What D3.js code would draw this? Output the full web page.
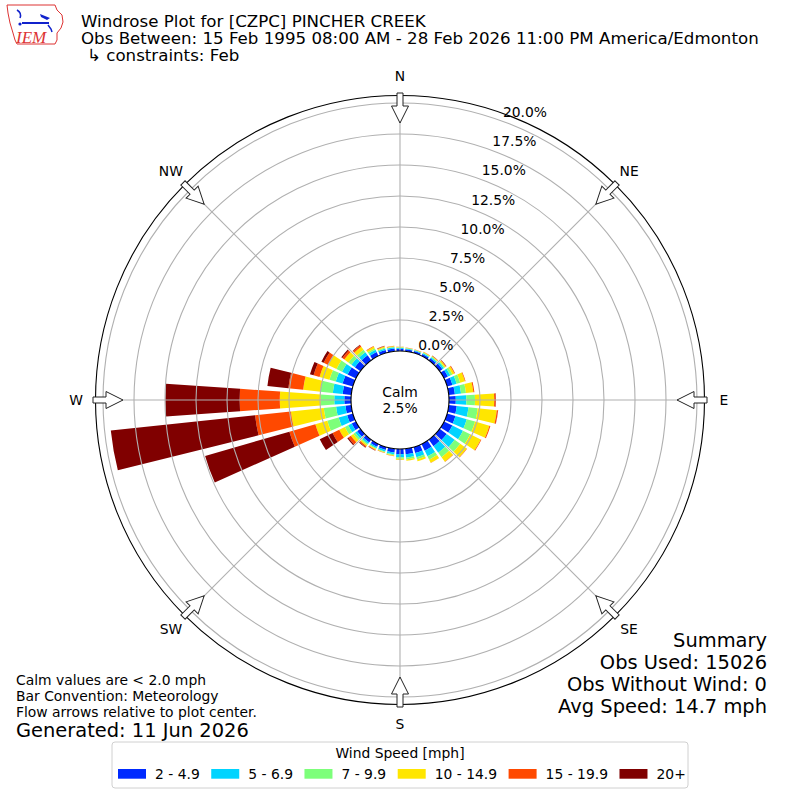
<!DOCTYPE html>
<html>
<head>
<meta charset="utf-8">
<script src="https://cdn.jsdelivr.net/npm/d3@7/dist/d3.min.js"></script>
<style>
  body { margin: 0; background: #fff; }
  text { font-family: "DejaVu Sans", sans-serif; fill: #000; }
</style>
</head>
<body>
<div id="chart"></div>
<script>
// direction bins (deg, meteorological: wind from)
const directions = [0, 10, 20, 30, 40, 50, 60, 70, 80, 90, 100, 110, 120, 130, 140, 150, 160, 170,
  180, 190, 200, 210, 220, 230, 240, 250, 260, 270, 280, 290, 300, 310, 320, 330, 340, 350];

const speedBins = ["2 - 4.9", "5 - 6.9", "7 - 9.9", "10 - 14.9", "15 - 19.9", "20+"];
const binColors = ["#002aff", "#00d4ff", "#7dff7a", "#ffe600", "#ff4900", "#800000"];

// percent frequency per direction, one array per speed bin
const speed2to5 = [0.18, 0.16, 0.15, 0.18, 0.22, 0.28, 0.35, 0.45, 0.50, 0.55, 0.65, 0.70, 0.75, 0.70, 0.65, 0.60, 0.50, 0.45,
  0.42, 0.30, 0.25, 0.25, 0.28, 0.32, 0.38, 0.48, 0.47, 0.54, 0.70, 0.87, 0.75, 0.55, 0.50, 0.35, 0.25, 0.22];
const speed5to7 = [0.08, 0.07, 0.07, 0.08, 0.10, 0.14, 0.22, 0.35, 0.50, 0.85, 0.95, 0.95, 0.95, 0.80, 0.65, 0.50, 0.35, 0.28,
  0.25, 0.15, 0.12, 0.12, 0.15, 0.20, 0.32, 0.72, 0.76, 0.81, 0.80, 0.57, 0.50, 0.35, 0.30, 0.20, 0.12, 0.10];
const speed7to10 = [0.04, 0.03, 0.04, 0.05, 0.06, 0.10, 0.18, 0.30, 0.40, 0.70, 0.75, 0.70, 0.65, 0.55, 0.45, 0.30, 0.18, 0.14,
  0.12, 0.08, 0.06, 0.08, 0.10, 0.18, 0.30, 0.95, 1.00, 1.08, 1.00, 0.53, 0.50, 0.30, 0.25, 0.15, 0.08, 0.05];
const speed10to15 = [0.04, 0.03, 0.03, 0.05, 0.06, 0.10, 0.18, 0.40, 0.60, 1.55, 1.55, 1.20, 0.95, 0.65, 0.45, 0.28, 0.15, 0.10,
  0.08, 0.05, 0.05, 0.08, 0.12, 0.25, 0.50, 1.00, 2.67, 3.31, 1.40, 0.83, 0.75, 0.40, 0.30, 0.15, 0.08, 0.05];
const speed15to20 = [0.01, 0.01, 0.01, 0.02, 0.03, 0.05, 0.05, 0.05, 0.08, 0.12, 0.10, 0.08, 0.05, 0.03, 0.02, 0.02, 0.01, 0.01,
  0.01, 0.02, 0.02, 0.05, 0.10, 0.25, 0.60, 2.18, 2.90, 3.24, 1.20, 0.50, 0.40, 0.20, 0.15, 0.05, 0.05, 0.03];
const speed20up = [0, 0, 0, 0, 0.01, 0.02, 0.01, 0, 0, 0.02, 0.01, 0, 0, 0, 0, 0, 0, 0,
  0, 0, 0, 0.02, 0.05, 0.10, 1.15, 7.07, 11.70, 6.00, 1.70, 0.30, 0.20, 0.10, 0.05, 0, 0.02, 0];

const ringTicks = [0, 2.5, 5, 7.5, 10, 12.5, 15, 17.5, 20];
const compass = [["N", 0], ["NE", 45], ["E", 90], ["SE", 135], ["S", 180], ["SW", 225], ["W", 270], ["NW", 315]];

const titleLines = [
  "Windrose Plot for [CZPC] PINCHER CREEK",
  "Obs Between: 15 Feb 1995 08:00 AM - 28 Feb 2026 11:00 PM America/Edmonton",
  "\u21b3 constraints: Feb"
];
const noteLines = ["Calm values are < 2.0 mph", "Bar Convention: Meteorology", "Flow arrows relative to plot center."];
const summaryLines = ["Summary", "Obs Used: 15026", "Obs Without Wind: 0", "Avg Speed: 14.7 mph"];
const calmPct = 2.5;

const [width, height] = [800, 800];
const [cx, cy] = [400, 400];
const pt = 100 / 72;

const svg = d3.select("#chart").append("svg")
  .attr("width", width).attr("height", height);

// radial scale: 0% sits on the calm circle
const r = d3.scaleLinear().domain([0, 20]).range([49, 297]);
const rOuter = 304.5;
const rad = d => d * Math.PI / 180;

const g = svg.append("g").attr("transform", `translate(${cx},${cy})`);

// stacked bars
const series = [speed2to5, speed5to7, speed7to10, speed10to15, speed15to20, speed20up];
const stack = directions.map((d, i) => {
  let base = 0;
  return series.map((s, k) => {
    const seg = { dir: d, k: k, y0: base, y1: base + s[i] };
    base += s[i];
    return seg;
  });
}).flat();

const halfW = 4; // bar width 8 deg
const arc = d3.arc()
  .innerRadius(d => r(d.y0))
  .outerRadius(d => r(d.y1))
  .startAngle(d => rad(d.dir - halfW))
  .endAngle(d => rad(d.dir + halfW));

g.append("g").selectAll("path")
  .data(stack.filter(d => d.y1 > d.y0))
  .enter().append("path")
  .attr("d", arc)
  .attr("fill", d => binColors[d.k]);

// grid
const grid = g.append("g").attr("fill", "none").attr("stroke", "#b0b0b0").attr("stroke-width", 1.1);
grid.selectAll("circle")
  .data(ringTicks.slice(1))
  .enter().append("circle")
  .attr("r", d => r(d));
grid.selectAll("line")
  .data(compass)
  .enter().append("line")
  .attr("x1", d => r(0) * Math.sin(rad(d[1])))
  .attr("y1", d => -r(0) * Math.cos(rad(d[1])))
  .attr("x2", d => rOuter * Math.sin(rad(d[1])))
  .attr("y2", d => -rOuter * Math.cos(rad(d[1])));

g.append("circle").attr("r", rOuter)
  .attr("fill", "none").attr("stroke", "#000").attr("stroke-width", 1.1);

// flow arrows pointing to the center
const arrowPath = "M-3,-307 L3,-307 L3,-294 L8.5,-294 L0,-277 L-8.5,-294 L-3,-294 Z";
g.append("g").selectAll("path")
  .data(compass)
  .enter().append("path")
  .attr("d", arrowPath)
  .attr("transform", d => `rotate(${d[1]})`)
  .attr("fill", "#fff")
  .attr("stroke", "#222")
  .attr("stroke-width", 1);

// calm circle
g.append("circle").attr("r", r(0))
  .attr("fill", "#fff").attr("stroke", "#000").attr("stroke-width", 1.1);
g.append("text").attr("text-anchor", "middle").attr("y", -3)
  .style("font-size", 10 * pt + "px").text("Calm");
g.append("text").attr("text-anchor", "middle").attr("y", 13)
  .style("font-size", 10 * pt + "px").text(d3.format(".1f")(calmPct) + "%");

// ring labels
const fmt = d3.format(".1f");
g.append("g").selectAll("text")
  .data(ringTicks)
  .enter().append("text")
  .attr("x", d => (r(d) + 4) * Math.sin(rad(20)))
  .attr("y", d => -(r(d) + 4) * Math.cos(rad(20)))
  .style("font-size", 10 * pt + "px")
  .text(d => fmt(d) + "%");

// compass labels
g.append("g").selectAll("text")
  .data(compass)
  .enter().append("text")
  .attr("x", d => 324 * Math.sin(rad(d[1])))
  .attr("y", d => -324 * Math.cos(rad(d[1])) + 5)
  .attr("text-anchor", "middle")
  .style("font-size", 10 * pt + "px")
  .text(d => d[0]);

// title
svg.append("g").selectAll("text")
  .data(titleLines)
  .enter().append("text")
  .attr("x", (d, i) => i === 2 ? 87 : 81)
  .attr("y", (d, i) => 26.5 + i * 17.3)
  .style("font-size", 12 * pt + "px")
  .text(d => d);

// notes bottom-left
svg.append("g").selectAll("text")
  .data(noteLines)
  .enter().append("text")
  .attr("x", 16)
  .attr("y", (d, i) => 685 + i * 16)
  .style("font-size", 10 * pt + "px")
  .text(d => d);
svg.append("text").attr("x", 16).attr("y", 737)
  .style("font-size", 14 * pt + "px").text("Generated: 11 Jun 2026");

// summary bottom-right
svg.append("g").selectAll("text")
  .data(summaryLines)
  .enter().append("text")
  .attr("x", 767)
  .attr("y", (d, i) => 646.5 + i * 22)
  .attr("text-anchor", "end")
  .style("font-size", 14 * pt + "px")
  .text(d => d);

// legend
const legend = svg.append("g");
legend.append("rect")
  .attr("x", 112).attr("y", 742).attr("width", 576).attr("height", 46)
  .attr("rx", 3).attr("fill", "#fff").attr("stroke", "#d0d0d0");
legend.append("text").attr("x", 400).attr("y", 758)
  .attr("text-anchor", "middle").style("font-size", 10 * pt + "px")
  .text("Wind Speed [mph]");
const items = legend.append("g");
let xpos = 0;
speedBins.forEach((label, k) => {
  items.append("rect").attr("x", xpos).attr("y", 769).attr("width", 28).attr("height", 9.7)
    .attr("fill", binColors[k]);
  const t = items.append("text").attr("x", xpos + 37).attr("y", 779)
    .style("font-size", 10 * pt + "px").text(label);
  xpos += 37 + t.node().getComputedTextLength() + 11.5;
});
items.attr("transform", `translate(118,0)`);

// IEM logo
const logo = svg.append("g");
logo.append("path")
  .attr("d", "M7,5 L55,5 L57,10 L62,15 L63,22 L61,28 L57,33 L57,40 L55,44 L17,44 L15,40 L13,33 L10,23 L8,13 Z")
  .attr("fill", "#fff").attr("stroke", "#d33").attr("stroke-width", 1);
logo.append("path").attr("d", "M17,10 Q22,13 20,18").attr("fill", "none").attr("stroke", "#12c").attr("stroke-width", 1.5);
logo.append("circle").attr("cx", 20).attr("cy", 24).attr("r", 1.6).attr("fill", "#12c");
logo.append("line").attr("x1", 22).attr("y1", 23).attr("x2", 49).attr("y2", 23)
  .attr("stroke", "#12c").attr("stroke-width", 2);
logo.append("path").attr("d", "M40,14 L50,18 L47,20 L41,17 Z").attr("fill", "#12c");
logo.append("path").attr("d", "M48,25 L51,29 L52,32").attr("fill", "none").attr("stroke", "#12c").attr("stroke-width", 1.5);
logo.append("text").attr("x", 16).attr("y", 43)
  .style("font-family", "'Liberation Serif', serif").style("font-style", "italic")
  .style("font-size", "17px").style("fill", "#d33").text("IEM");
</script>
</body>
</html>
